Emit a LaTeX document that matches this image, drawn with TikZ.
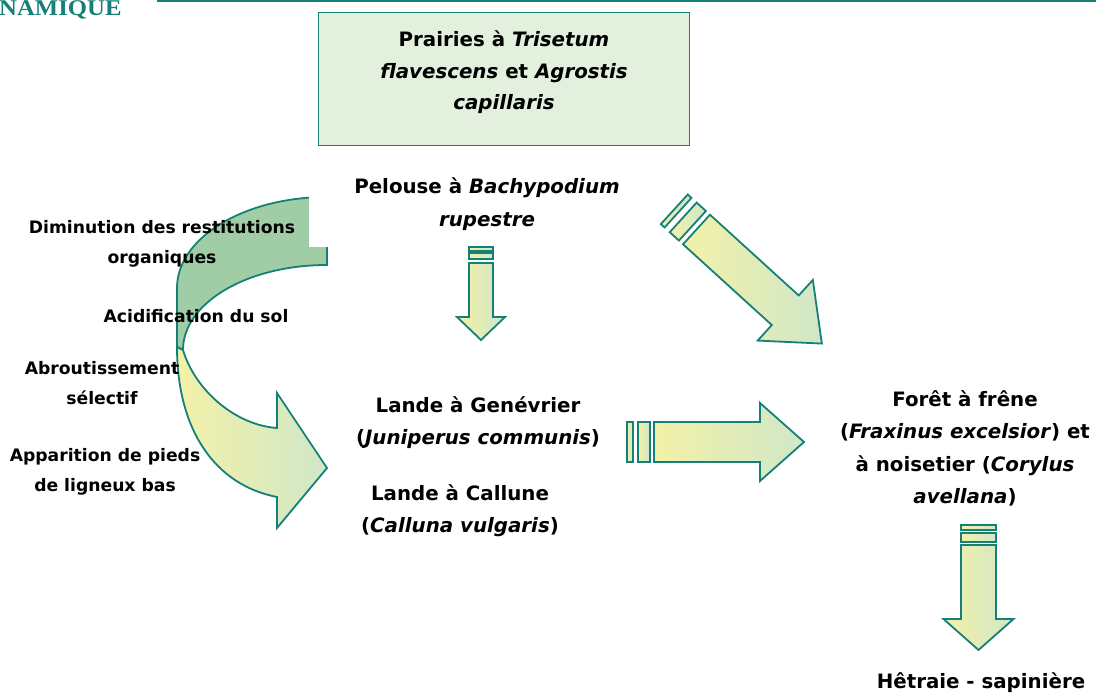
\documentclass[tikz,border=0pt]{standalone}
\usepackage{fontspec}
\newfontfamily\cs{DejaVu Sans}
\newfontfamily\ttl{Liberation Serif}[FakeStretch=1.1]
\definecolor{teal1}{RGB}{20,128,120}
\definecolor{boxfill}{RGB}{227,240,221}
\definecolor{arrY}{RGB}{243,241,168}
\definecolor{arrG}{RGB}{208,231,200}
\definecolor{arrD}{RGB}{160,205,165}
\newcommand\blockarr[8]{%
  \draw[arr] (#3,-#1) rectangle (#4,#1);
  \draw[arr] (#5,-#1) rectangle (#6,#1);
  \draw[arr] (0,-#1) -- (#7,-#1) -- (#7,-#2) -- ({#7+#8},0) -- (#7,#2) -- (#7,#1) -- (0,#1) -- cycle;}
\begin{document}
\begin{tikzpicture}[x=1pt,y=-1pt,
  arr/.style={draw=teal1,line width=1.8pt,line join=miter,left color=arrY,right color=arrG},
  lbl/.style={font=\cs\bfseries\fontsize{19.8}{32.3}\selectfont,align=center,inner sep=0pt,text=black},
  side/.style={font=\cs\bfseries\fontsize{17.2}{30}\selectfont,align=center,inner sep=0pt,text=black}]
\useasboundingbox (0,0) rectangle (1096,696);
% header
\node[anchor=base west,inner sep=0pt,font=\ttl\bfseries\fontsize{22.5}{22.5}\selectfont,text=teal1] (hdr) at (-1,16) {NAMIQUE};
\coordinate (l1) at (157,1);
\coordinate (l2) at (1096,1);
\draw[teal1,line width=2pt] (l1) -- (l2);
% title box
\node[draw=teal1,line width=0.8pt,fill=boxfill,minimum width=371pt,minimum height=133pt,inner sep=0pt] (box) at (503.5,78.5) {};
\node[lbl,font=\cs\bfseries\fontsize{19.8}{31.5}\selectfont] (prairie) at (504,72.5) {Prairies à \textit{Trisetum}\\\textit{flavescens} et \textit{Agrostis}\\\textit{capillaris}};
% curved arrow
\filldraw[draw=teal1,line width=1.8pt,fill=arrD]
  (327,197) .. controls (244,197) and (177,238) .. (177,288) -- (177,347) -- (183,350)
  .. controls (183,303) and (247,265) .. (327,265) -- cycle;
\filldraw[arr]
  (177,347) .. controls (177,430) and (215,485) .. (277,497) -- (277,528) -- (327,468) -- (277,393) -- (277,428)
  .. controls (235,425) and (195,390) .. (183,350) -- cycle;
\fill[white] (309,195) rectangle (330,247);
% block arrows
\begin{scope}[shift={(481,263)},rotate=-90]
  \blockarr{12}{24}{-16}{-12}{-10}{-4}{54}{23}
\end{scope}
\begin{scope}[shift={(696.5,229.5)},rotate=-42.3]
  \blockarr{20}{41}{-30}{-25}{-18}{-5.5}{120}{49.5}
\end{scope}
\begin{scope}[shift={(654,442)}]
  \blockarr{20}{39}{-27}{-21}{-16}{-4}{106}{44}
\end{scope}
\begin{scope}[shift={(978.5,545)},rotate=-90]
  \blockarr{17.5}{35}{-20}{-15}{-12}{-3}{74}{31}
\end{scope}
% texts
\node[lbl] (pelouse) at (487,204) {Pelouse à \textit{Bachypodium}\\\textit{rupestre}};
\node[lbl] (genev) at (478,422.5) {Lande à Genévrier\\(\textit{Juniperus communis})};
\node[lbl] (callune) at (460,511) {Lande à Callune\\(\textit{Calluna vulgaris})};
\node[lbl] (foret) at (965,448.5) {Forêt à frêne\\(\textit{Fraxinus excelsior}) et\\à noisetier (\textit{Corylus}\\\textit{avellana})};
\node[lbl] (hetraie) at (981,683) {Hêtraie - sapinière};
\node[side] (dimin) at (162,244) {Diminution des restitutions\\organiques};
\node[side] (acid) at (196,316) {Acidification du sol};
\node[side] (abrout) at (102,383.5) {Abroutissement\\sélectif};
\node[side] (appar) at (105,472) {Apparition de pieds\\de ligneux bas};
\end{tikzpicture}
\end{document}
